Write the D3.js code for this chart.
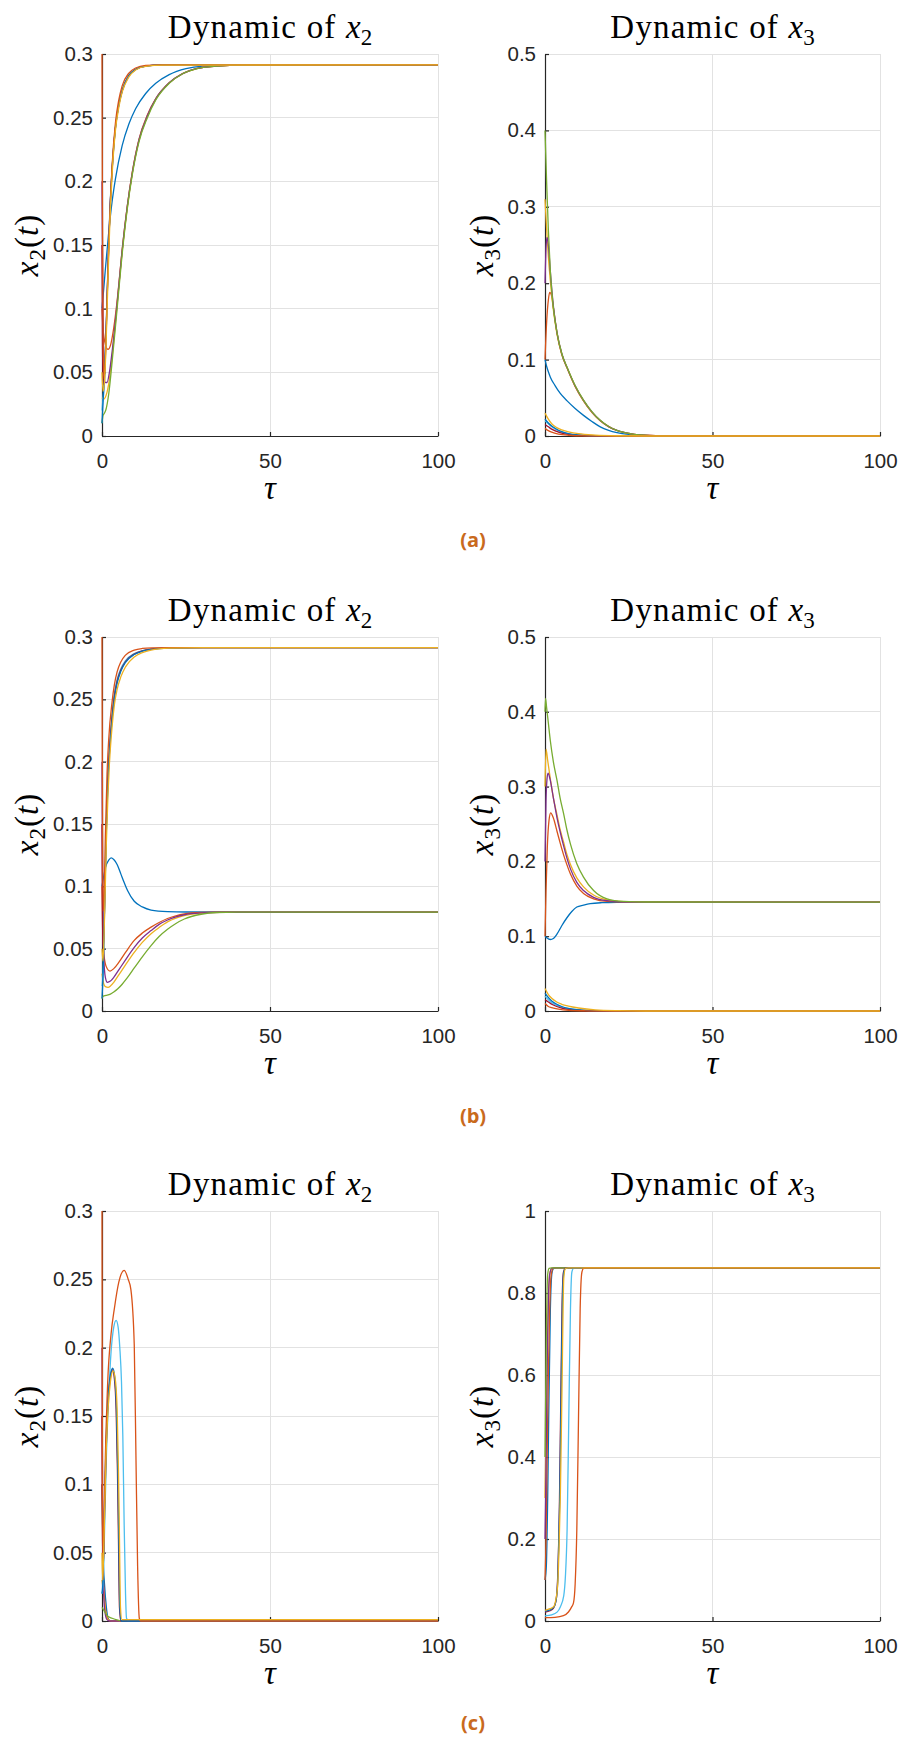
<!DOCTYPE html>
<html>
<head>
<meta charset="utf-8">
<title>Dynamics of x2 and x3</title>
<script src="https://d3js.org/d3.v7.min.js"></script>
<style>
  body { margin: 0; background: #fff; }
  .grid line { stroke: #e2e2e2; stroke-width: 1px; shape-rendering: crispEdges; }
  .axis path, .axis line { stroke: #262626; stroke-width: 1.2px; }
  .axis text { fill: #262626; font-family: "Liberation Sans", Arial, sans-serif; font-size: 20.5px; }
  .curve { fill: none; stroke-width: 1.3px; }
  .tex { font-family: "Liberation Serif", "DejaVu Serif", serif; fill: #000; font-size: 33px; }
  .caption { font-family: "Open Sans", sans-serif; font-weight: bold; font-size: 20px; fill: #c96a1d; }
</style>
</head>
<body>
<script>
// MATLAB default colour order, series i uses palette[i % 7]
var palette = ["#0072BD", "#D95319", "#EDB120", "#7E2F8E", "#77AC30", "#4DBEEE", "#A2142F"];

var tauTicks = [0, 50, 100];
var x2Ticks = [0, 0.05, 0.1, 0.15, 0.2, 0.25, 0.3];
var x3TicksAB = [0, 0.1, 0.2, 0.3, 0.4, 0.5];
var x3TicksC = [0, 0.2, 0.4, 0.6, 0.8, 1];

// each curve: [tau, value] pairs
var a_x2 = [
  [[0,0.1],[0.5,0.115],[1,0.131],[2,0.16],[3,0.184],[4,0.202],[6,0.228],[8,0.245],[10,0.257],[13,0.269],[16,0.277],[20,0.2838],[25,0.2885],[30,0.2905],[40,0.2914],[100,0.2915]],
  [[0,0.1],[0.3,0.085],[1,0.072],[1.8,0.068],[2.5,0.071],[3.5,0.085],[4.5,0.106],[6,0.146],[7.5,0.18],[9,0.207],[11,0.233],[13.5,0.252],[16,0.265],[20,0.2775],[24,0.2847],[28,0.2885],[34,0.2905],[42,0.2913],[100,0.2915]],
  [[0,0.03],[0.5,0.029],[1,0.0305],[2,0.041],[3,0.062],[4.5,0.103],[6,0.145],[7.5,0.179],[9,0.206],[11,0.232],[13.5,0.251],[16,0.2645],[20,0.2772],[24,0.2845],[28,0.2884],[34,0.2905],[42,0.2913],[100,0.2915]],
  [[0,0.2],[0.2,0.12],[0.5,0.065],[1,0.042],[1.5,0.042],[2.2,0.05],[3,0.066],[4.5,0.104],[6,0.146],[7.5,0.18],[9,0.2065],[11,0.2325],[13.5,0.2515],[16,0.2648],[20,0.2774],[24,0.2846],[28,0.2885],[34,0.2905],[42,0.2913],[100,0.2915]],
  [[0,0.01],[0.3,0.016],[0.7,0.0178],[1.2,0.021],[2,0.033],[3,0.058],[4.5,0.1],[6,0.143],[7.5,0.178],[9,0.205],[11,0.231],[13.5,0.25],[16,0.264],[20,0.277],[24,0.2845],[28,0.2883],[34,0.2904],[42,0.2913],[100,0.2915]],
  [[0,0.02],[0.3,0.03],[0.8,0.05],[1.3,0.09],[1.8,0.135],[2.3,0.175],[3,0.21],[4,0.243],[5,0.261],[6,0.272],[8,0.2835],[10,0.288],[13,0.2905],[18,0.2914],[100,0.2915]],
  [[0,0.15],[0.15,0.07],[0.4,0.04],[0.8,0.052],[1.3,0.09],[1.8,0.134],[2.3,0.173],[3,0.209],[4,0.242],[5,0.26],[6,0.271],[8,0.283],[10,0.2878],[13,0.2904],[18,0.2914],[100,0.2915]],
  [[0,0.01],[0.3,0.026],[0.8,0.048],[1.3,0.087],[1.8,0.132],[2.3,0.172],[3,0.208],[4,0.242],[5,0.26],[6,0.271],[8,0.283],[10,0.2878],[13,0.2904],[18,0.2914],[100,0.2915]],
  [[0,0.3],[0.1,0.2],[0.3,0.08],[0.6,0.045],[1,0.06],[1.5,0.105],[2,0.15],[2.5,0.185],[3,0.212],[4,0.246],[5,0.264],[6,0.275],[8,0.285],[10,0.289],[13,0.291],[18,0.2915],[100,0.2915]],
  [[0,0.05],[0.3,0.035],[0.8,0.045],[1.3,0.08],[1.8,0.125],[2.3,0.165],[3,0.205],[4,0.24],[5,0.258],[6,0.27],[8,0.282],[10,0.2875],[13,0.2903],[18,0.2913],[100,0.2915]]
];

var a_x3 = [
  [[0,0.1],[0.5,0.091],[1,0.084],[1.6,0.077],[3,0.066],[4.5,0.056],[6.6,0.046],[9,0.036],[11.5,0.027],[14,0.019],[16.5,0.012],[19,0.0075],[21.5,0.0045],[25,0.002],[30,0.0006],[40,0],[100,0]],
  [[0,0.1],[0.5,0.15],[1,0.178],[1.4,0.188],[2,0.183],[2.5,0.168],[3.6,0.134],[5,0.107],[6.6,0.089],[9,0.065],[11.5,0.046],[14,0.031],[16.5,0.02],[19,0.0122],[21.5,0.0072],[25,0.0034],[28,0.0015],[35,0.0003],[45,0],[100,0]],
  [[0,0.31],[0.5,0.27],[1,0.235],[1.6,0.203],[2.5,0.165],[3.6,0.133],[5,0.107],[6.6,0.089],[9,0.065],[11.5,0.046],[14,0.031],[16.5,0.02],[19,0.0122],[21.5,0.0072],[25,0.0034],[28,0.0015],[35,0.0003],[45,0],[100,0]],
  [[0,0.2],[0.3,0.245],[0.6,0.26],[1,0.25],[1.6,0.215],[2.5,0.17],[3.6,0.135],[5,0.108],[6.6,0.0895],[9,0.0655],[11.5,0.0465],[14,0.0315],[16.5,0.0202],[19,0.0123],[21.5,0.0073],[25,0.0034],[28,0.0015],[35,0.0003],[45,0],[100,0]],
  [[0,0.4],[0.5,0.33],[1,0.27],[1.6,0.215],[2.5,0.168],[3.6,0.135],[5,0.108],[6.6,0.09],[9,0.066],[11.5,0.047],[14,0.032],[16.5,0.0205],[19,0.0125],[21.5,0.0074],[25,0.0035],[28,0.0016],[35,0.0003],[45,0],[100,0]],
  [[0,0.02],[1,0.016],[2,0.012],[3.5,0.008],[5,0.005],[7,0.0028],[10,0.0012],[15,0.0003],[25,0],[100,0]],
  [[0,0.015],[1,0.012],[2,0.009],[3.5,0.006],[5,0.0038],[7,0.002],[10,0.0008],[15,0.0002],[25,0],[100,0]],
  [[0,0.022],[1,0.017],[2,0.013],[3.5,0.0088],[5,0.0058],[7,0.0032],[10,0.0014],[15,0.0004],[25,0],[100,0]],
  [[0,0.01],[1,0.007],[2,0.005],[4,0.0025],[7,0.001],[12,0.0002],[20,0],[100,0]],
  [[0,0.03],[1,0.022],[2,0.016],[3.5,0.011],[5,0.008],[7,0.0055],[10,0.003],[15,0.0012],[22,0.0003],[30,0],[100,0]]
];

var b_x2 = [
  [[0,0.1],[0.5,0.108],[1,0.115],[2,0.121],[2.7,0.1228],[3.5,0.1215],[4.5,0.1175],[5.6,0.11],[6.6,0.103],[7.6,0.0966],[9.6,0.088],[12,0.0835],[14.6,0.081],[19.5,0.0797],[25,0.0794],[100,0.0793]],
  [[0,0.1],[0.2,0.07],[0.6,0.045],[1.2,0.036],[2.4,0.032],[3.5,0.034],[5,0.039],[7,0.047],[9.6,0.0566],[12,0.0625],[14.6,0.0673],[17,0.071],[19.5,0.0742],[22,0.0763],[24.5,0.0778],[29.5,0.079],[35,0.0793],[100,0.0793]],
  [[0,0.03],[0.5,0.022],[1,0.0195],[1.8,0.019],[2.5,0.02],[3.5,0.023],[5,0.029],[7,0.037],[9.6,0.047],[12,0.055],[14.6,0.062],[17,0.067],[19.5,0.0715],[22,0.0745],[24.5,0.0765],[29.5,0.0785],[35,0.0791],[100,0.0793]],
  [[0,0.2],[0.2,0.1],[0.5,0.045],[1,0.027],[1.6,0.023],[2.5,0.024],[3.5,0.027],[5,0.033],[7,0.041],[9.6,0.051],[12,0.0585],[14.6,0.0645],[17,0.0695],[19.5,0.073],[22,0.0755],[24.5,0.0772],[29.5,0.0787],[35,0.0792],[100,0.0793]],
  [[0,0.01],[0.4,0.012],[1.2,0.0125],[2.5,0.0135],[3.5,0.0152],[4.7,0.0178],[6,0.0215],[7.5,0.0265],[9.6,0.0345],[12,0.0435],[14.6,0.0525],[17,0.0597],[19.5,0.0655],[22,0.0702],[24.5,0.0738],[29.5,0.0776],[34,0.079],[40,0.0793],[100,0.0793]],
  [[0,0.02],[0.3,0.03],[0.8,0.09],[1.3,0.15],[1.8,0.19],[2.2,0.21],[3,0.238],[3.7,0.255],[4.5,0.266],[5.6,0.2745],[7,0.281],[9.6,0.2867],[12,0.289],[14.6,0.2903],[20,0.2912],[30,0.2915],[100,0.2915]],
  [[0,0.15],[0.15,0.07],[0.4,0.05],[0.8,0.088],[1.3,0.148],[1.8,0.188],[2.2,0.208],[3,0.236],[3.7,0.253],[4.5,0.2645],[5.6,0.2735],[7,0.2803],[9.6,0.2863],[12,0.2888],[14.6,0.2902],[20,0.2912],[30,0.2915],[100,0.2915]],
  [[0,0.01],[0.3,0.028],[0.8,0.086],[1.3,0.145],[1.8,0.186],[2.2,0.206],[3,0.234],[3.7,0.251],[4.5,0.263],[5.6,0.2725],[7,0.2797],[9.6,0.286],[12,0.2886],[14.6,0.2901],[20,0.2911],[30,0.2915],[100,0.2915]],
  [[0,0.3],[0.1,0.2],[0.3,0.08],[0.6,0.09],[1,0.14],[1.5,0.19],[2,0.218],[3,0.248],[3.7,0.262],[4.5,0.272],[5.6,0.28],[7,0.2855],[9.6,0.2895],[12,0.2908],[15,0.2913],[20,0.2915],[100,0.2915]],
  [[0,0.05],[0.3,0.04],[0.8,0.08],[1.3,0.135],[1.8,0.175],[2.2,0.198],[3,0.228],[3.7,0.246],[4.5,0.258],[5.6,0.268],[7,0.276],[9.6,0.284],[12,0.2875],[14.6,0.2895],[20,0.291],[30,0.2915],[100,0.2915]]
];

var b_x3 = [
  [[0,0.1],[0.5,0.098],[1.6,0.0956],[2.5,0.097],[3.6,0.103],[5,0.114],[6.6,0.125],[8,0.133],[9.5,0.139],[11.5,0.1415],[13.5,0.1435],[17,0.1448],[21.5,0.1453],[30,0.1455],[100,0.1455]],
  [[0,0.1],[0.3,0.16],[0.7,0.22],[1.2,0.255],[1.7,0.265],[2.5,0.258],[3.6,0.24],[4.5,0.225],[5.6,0.208],[6.5,0.196],[7.6,0.183],[9.5,0.167],[11.5,0.157],[14.5,0.15],[18.5,0.1465],[23.5,0.1458],[100,0.1455]],
  [[0,0.3],[0.3,0.35],[0.8,0.335],[1.6,0.31],[2.5,0.285],[3.6,0.262],[4.5,0.243],[5.6,0.225],[6.5,0.21],[7.6,0.196],[9.5,0.178],[11.5,0.166],[14.5,0.155],[18.5,0.1485],[23.5,0.1462],[30,0.1457],[100,0.1455]],
  [[0,0.2],[0.3,0.28],[0.6,0.31],[0.9,0.318],[1.5,0.31],[2.5,0.285],[3.6,0.258],[4.5,0.24],[5.6,0.22],[6.5,0.205],[7.6,0.19],[9.5,0.172],[11.5,0.161],[14.5,0.152],[18.5,0.1475],[23.5,0.146],[30,0.1456],[100,0.1455]],
  [[0,0.4],[0.15,0.418],[0.5,0.405],[1,0.385],[1.6,0.361],[2.5,0.333],[3.6,0.308],[4.5,0.285],[5.6,0.263],[6.5,0.243],[7.6,0.223],[9.5,0.197],[11.5,0.179],[14.5,0.161],[18.5,0.15],[23.5,0.1465],[30,0.1457],[100,0.1455]],
  [[0,0.02],[1,0.015],[2,0.011],[3.5,0.0075],[5,0.005],[7,0.003],[10,0.0015],[15,0.0004],[25,0],[100,0]],
  [[0,0.015],[1,0.012],[2,0.009],[3.5,0.006],[5,0.004],[7,0.0022],[10,0.001],[15,0.0003],[25,0],[100,0]],
  [[0,0.024],[1,0.018],[2,0.0135],[3.5,0.009],[5,0.006],[7,0.0035],[10,0.0016],[15,0.0005],[25,0],[100,0]],
  [[0,0.01],[1,0.006],[2,0.0045],[4,0.0025],[7,0.001],[12,0.0003],[20,0],[100,0]],
  [[0,0.03],[1,0.022],[2,0.017],[3.5,0.012],[5,0.009],[7,0.0065],[10,0.004],[15,0.0015],[22,0.0004],[30,0],[100,0]]
];

var c_x2 = [
  [[0,0.1],[0.3,0.05],[0.8,0.025],[1.3,0.01],[1.8,0.002],[2.5,0],[100,0]],
  [[0,0.1],[0.3,0.04],[0.8,0.015],[1.5,0.003],[2.5,0],[100,0]],
  [[0,0.03],[0.5,0.02],[1,0.008],[1.8,0.001],[3,0],[100,0]],
  [[0,0.2],[0.15,0.1],[0.4,0.03],[0.8,0.008],[1.5,0.001],[2.5,0],[100,0]],
  [[0,0.01],[0.5,0.008],[1.5,0.004],[3,0.002],[5,0.0005],[6,0],[100,0]],
  [[0,0.02],[0.3,0.025],[0.8,0.07],[1.3,0.12],[2,0.165],[2.7,0.197],[3.5,0.215],[4.2,0.22],[4.8,0.215],[5.3,0.2],[5.8,0.175],[6.2,0.135],[6.6,0.07],[7,0.02],[7.3,0.002],[8,0],[100,0]],
  [[0,0.15],[0.15,0.06],[0.4,0.04],[0.8,0.085],[1.3,0.13],[1.8,0.16],[2.5,0.178],[3.1,0.184],[3.7,0.177],[4.2,0.155],[4.6,0.11],[4.9,0.06],[5.2,0.01],[5.6,0],[100,0]],
  [[0,0.02],[0.3,0.03],[0.7,0.08],[1.2,0.13],[1.8,0.163],[2.5,0.18],[3.2,0.185],[3.8,0.178],[4.3,0.155],[4.7,0.11],[5,0.06],[5.3,0.01],[5.7,0],[100,0]],
  [[0,0.3],[0.1,0.15],[0.25,0.03],[0.5,0.06],[1,0.12],[1.7,0.175],[2.7,0.21],[3.7,0.229],[5,0.248],[6.6,0.2566],[7.8,0.25],[8.6,0.2425],[9.6,0.202],[10.1,0.121],[10.6,0.04],[11.1,0.002],[11.5,0],[100,0]],
  [[0,0.05],[0.2,0.03],[0.6,0.06],[1.2,0.12],[1.8,0.155],[2.5,0.175],[3.3,0.183],[3.9,0.178],[4.5,0.155],[4.9,0.11],[5.2,0.06],[5.5,0.01],[5.9,0.001],[100,0.001]]
];

var c_x3 = [
  [[0,0.1],[0.4,0.134],[0.8,0.3],[1.1,0.49],[1.6,0.76],[2.1,0.85],[2.6,0.86],[3.5,0.8615],[100,0.8615]],
  [[0,0.1],[0.3,0.2],[0.6,0.38],[1,0.6],[1.4,0.76],[1.8,0.84],[2.4,0.86],[3,0.8615],[100,0.8615]],
  [[0,0.3],[0.3,0.45],[0.6,0.62],[1,0.78],[1.5,0.85],[2,0.86],[3,0.8615],[100,0.8615]],
  [[0,0.2],[0.2,0.3],[0.4,0.45],[0.7,0.65],[1,0.78],[1.4,0.845],[2,0.86],[3,0.8615],[100,0.8615]],
  [[0,0.4],[0.2,0.55],[0.4,0.7],[0.6,0.8],[0.8,0.845],[1.2,0.86],[2,0.8615],[100,0.8615]],
  [[0,0.0126],[2,0.015],[3.6,0.0216],[4.6,0.035],[5.6,0.062],[6.1,0.11],[6.6,0.224],[7.1,0.494],[7.6,0.76],[8,0.85],[8.5,0.86],[10,0.8615],[100,0.8615]],
  [[0,0.022],[1.5,0.025],[2.5,0.031],[3.3,0.05],[3.8,0.11],[4.3,0.28],[4.7,0.53],[5.1,0.77],[5.5,0.85],[6,0.86],[7,0.8615],[100,0.8615]],
  [[0,0.024],[1.5,0.027],[2.6,0.033],[3.4,0.055],[3.9,0.12],[4.4,0.3],[4.8,0.55],[5.2,0.78],[5.6,0.85],[6.1,0.86],[7,0.8615],[100,0.8615]],
  [[0,0.008],[3,0.009],[5.5,0.013],[7,0.022],[8,0.035],[8.5,0.044],[9,0.09],[9.5,0.224],[10,0.494],[10.5,0.763],[11,0.85],[11.5,0.86],[12.5,0.8615],[100,0.8615]],
  [[0,0.026],[1.5,0.03],[2.6,0.035],[3.3,0.055],[3.8,0.089],[4.2,0.18],[4.6,0.314],[5.1,0.584],[5.6,0.835],[6.1,0.86],[7,0.8615],[100,0.8615]]
];

var rows = [
  { top: 54, bottom: 436, caption: "(a)", capY: 547 },
  { top: 637, bottom: 1011, caption: "(b)", capY: 1123 },
  { top: 1211, bottom: 1621, caption: "(c)", capY: 1730 }
];
var cols = [
  { left: 102, right: 438, labX: 38, sub: "2" },
  { left: 545, right: 880, labX: 493, sub: "3" }
];

var panels = [
  { r: 0, c: 0, curves: a_x2, ticks: x2Ticks },
  { r: 0, c: 1, curves: a_x3, ticks: x3TicksAB },
  { r: 1, c: 0, curves: b_x2, ticks: x2Ticks },
  { r: 1, c: 1, curves: b_x3, ticks: x3TicksAB },
  { r: 2, c: 0, curves: c_x2, ticks: x2Ticks },
  { r: 2, c: 1, curves: c_x3, ticks: x3TicksC }
];

var svg = d3.select("body").append("svg")
  .attr("width", 899)
  .attr("height", 1738)
  .style("display", "block");

svg.append("rect").attr("width", 899).attr("height", 1738).attr("fill", "#fff");

var fmt = function(v) { return String(+v.toFixed(2)); };

panels.forEach(function(p, idx) {
  var row = rows[p.r], col = cols[p.c];
  var w = col.right - col.left, h = row.bottom - row.top;

  var x = d3.scaleLinear().domain([0, 100]).range([0, w]);
  var y = d3.scaleLinear().domain([0, d3.max(p.ticks)]).range([h, 0]);

  var g = svg.append("g").attr("transform", "translate(" + col.left + "," + row.top + ")");

  // grid
  var grid = g.append("g").attr("class", "grid");
  grid.selectAll("line.h").data(p.ticks.slice(1)).enter().append("line")
    .attr("x1", 0).attr("x2", w)
    .attr("y1", function(d) { return y(d); }).attr("y2", function(d) { return y(d); });
  grid.selectAll("line.v").data(tauTicks.slice(1)).enter().append("line")
    .attr("y1", 0).attr("y2", h)
    .attr("x1", function(d) { return x(d); }).attr("x2", function(d) { return x(d); });

  // axes
  g.append("g").attr("class", "axis")
    .attr("transform", "translate(0," + h + ")")
    .call(d3.axisBottom(x).tickValues(tauTicks).tickSizeInner(-4).tickSizeOuter(0).tickPadding(17).tickFormat(fmt));
  g.append("g").attr("class", "axis")
    .call(d3.axisLeft(y).tickValues(p.ticks).tickSizeInner(-4).tickSizeOuter(0).tickPadding(9).tickFormat(fmt));

  // curves
  var clipId = "clip" + idx;
  g.append("clipPath").attr("id", clipId).append("rect")
    .attr("x", -1).attr("y", -2).attr("width", w + 2).attr("height", h + 3);

  var line = d3.line()
    .x(function(d) { return x(d[0]); })
    .y(function(d) { return y(d[1]); })
    .curve(d3.curveMonotoneX);

  g.append("g").attr("clip-path", "url(#" + clipId + ")")
    .selectAll("path").data(p.curves).enter().append("path")
    .attr("class", "curve")
    .attr("stroke", function(d, i) { return palette[i % 7]; })
    .attr("d", line);

  // title
  var t = g.append("text").attr("class", "tex")
    .attr("x", w / 2).attr("y", -16)
    .attr("text-anchor", "middle");
  t.append("tspan").style("letter-spacing", "1.2px").text("Dynamic of ");
  t.append("tspan").style("font-style", "italic").text("x");
  t.append("tspan").attr("dy", 7).style("font-size", "23px").text(col.sub);

  // x label
  g.append("text").attr("class", "tex")
    .attr("x", w / 2).attr("y", h + 63)
    .attr("text-anchor", "middle")
    .style("font-style", "italic")
    .text("\u03C4");

  // y label
  var yl = svg.append("text").attr("class", "tex")
    .attr("transform", "translate(" + col.labX + "," + (row.top + h / 2) + ") rotate(-90)")
    .attr("text-anchor", "middle")
    .style("letter-spacing", "1px");
  yl.append("tspan").style("font-style", "italic").text("x");
  yl.append("tspan").attr("dy", 7).style("font-size", "23px").text(col.sub);
  yl.append("tspan").attr("dy", -7).text("(");
  yl.append("tspan").style("font-style", "italic").text("t");
  yl.append("tspan").text(")");
});

rows.forEach(function(row) {
  svg.append("text").attr("class", "caption")
    .attr("x", 473).attr("y", row.capY)
    .attr("text-anchor", "middle")
    .text(row.caption);
});
</script>
</body>
</html>
